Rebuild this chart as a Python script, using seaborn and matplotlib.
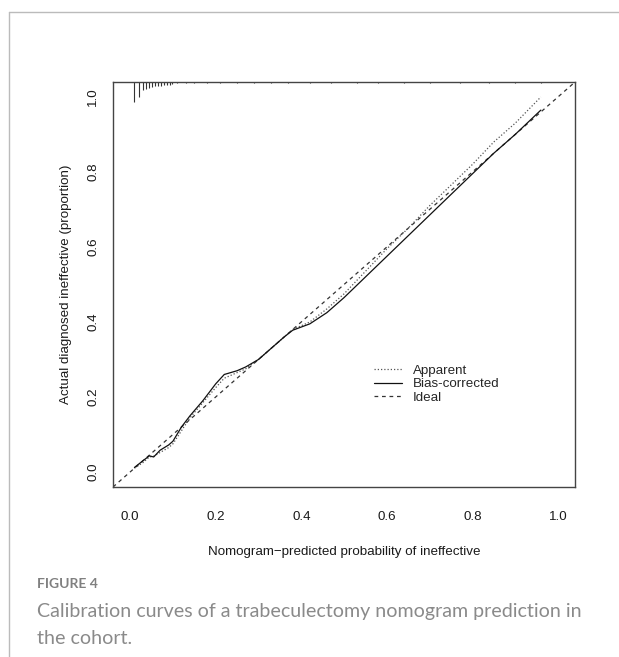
import numpy as np
import pandas as pd
import matplotlib
matplotlib.use("Agg")
import matplotlib.pyplot as plt
import seaborn as sns
from matplotlib.lines import Line2D

# =========================================
# Data
# =========================================

predicted = [0.01, 0.03, 0.045, 0.055, 0.07, 0.09, 0.10, 0.12, 0.14, 0.17,
             0.20, 0.22, 0.25, 0.27, 0.30, 0.33, 0.36, 0.38, 0.42, 0.46,
             0.50, 0.55, 0.60, 0.65, 0.70, 0.75, 0.80, 0.85, 0.90, 0.96]

bias_corrected = [0.012, 0.030, 0.043, 0.040, 0.058, 0.072, 0.082, 0.120, 0.150, 0.190,
                  0.235, 0.260, 0.270, 0.280, 0.300, 0.330, 0.360, 0.378, 0.395, 0.425,
                  0.465, 0.520, 0.575, 0.630, 0.685, 0.740, 0.795, 0.850, 0.900, 0.965]

apparent = [0.010, 0.025, 0.040, 0.042, 0.052, 0.065, 0.075, 0.110, 0.145, 0.185,
            0.225, 0.250, 0.265, 0.275, 0.300, 0.330, 0.360, 0.380, 0.400, 0.435,
            0.475, 0.535, 0.595, 0.650, 0.710, 0.765, 0.820, 0.880, 0.930, 1.000]

# rug of predicted probabilities drawn from the top of the box
rug_x = [0.010, 0.020, 0.030, 0.037, 0.044, 0.051, 0.058, 0.065, 0.072, 0.079,
         0.086, 0.093, 0.099, 0.11, 0.13, 0.15, 0.18, 0.21, 0.25, 0.29, 0.33,
         0.37, 0.42, 0.47, 0.53, 0.58, 0.64, 0.70, 0.77, 0.84, 0.90, 0.96]
rug_len = [0.053, 0.040, 0.022, 0.019, 0.016, 0.014, 0.012, 0.011, 0.011, 0.009,
           0.009, 0.007, 0.006, 0.004, 0.004, 0.003, 0.003, 0.003, 0.003, 0.003,
           0.003, 0.003, 0.003, 0.003, 0.003, 0.003, 0.003, 0.003, 0.003, 0.003,
           0.003, 0.003]

ticks = [0.0, 0.2, 0.4, 0.6, 0.8, 1.0]

df = pd.DataFrame({"predicted": predicted,
                   "apparent": apparent,
                   "bias": bias_corrected})

# =========================================
# Figure
# =========================================

sns.set_style("white")
plt.rcParams['font.family'] = ['Liberation Sans', 'DejaVu Sans']

fig = plt.figure(figsize=(6.19, 6.57), dpi=100)
ax = fig.add_axes([0.1826, 0.2588, 0.7464, 0.6164])

box_col = "#444444"
txt_col = "#1a1a1a"
fs = 9.6

ax.plot([-0.04, 1.04], [-0.04, 1.04], linestyle=(0, (3, 3)), color="#333333",
        lw=0.9, label="Ideal", zorder=2)
sns.lineplot(data=df, x="predicted", y="apparent", ax=ax, color="#555555",
             linestyle=(0, (1, 1.6)), lw=0.9, label="Apparent", zorder=3)
sns.lineplot(data=df, x="predicted", y="bias", ax=ax, color="#111111",
             lw=0.9, label="Bias-corrected", zorder=4)

ax.vlines(rug_x, [1.04 - l for l in rug_len], 1.04, color="#333333", lw=0.8)

ax.set_xlim(-0.04, 1.04)
ax.set_ylim(-0.04, 1.04)
ax.set_xticks(ticks)
ax.set_yticks(ticks)
ax.set_xticklabels([f"{t:.1f}" for t in ticks], fontsize=fs)
ax.set_yticklabels([f"{t:.1f}" for t in ticks], fontsize=fs,
                   rotation=90, va="center")
ax.tick_params(axis="both", direction="out", length=7, width=0.9,
               color=box_col, labelcolor=txt_col)
ax.tick_params(axis="x", pad=10)
ax.tick_params(axis="y", pad=3)

for s in ax.spines.values():
    s.set_color(box_col)
    s.set_linewidth(1.0)

ax.set_xlabel("Nomogram\u2212predicted probability of ineffective",
              fontsize=fs, color=txt_col, labelpad=17)
ax.set_ylabel("Actual diagnosed ineffective (proportion)",
              fontsize=fs, color=txt_col, labelpad=11)

# legend in R style, no frame
handles, labels = ax.get_legend_handles_labels()
order = [labels.index("Apparent"), labels.index("Bias-corrected"), labels.index("Ideal")]
ax.legend([handles[i] for i in order], [labels[i] for i in order],
          loc="upper left", bbox_to_anchor=(0.594, 0.455),
          bbox_transform=fig.transFigure, frameon=False, fontsize=fs,
          borderpad=0, handlelength=2.1, handletextpad=0.8, labelspacing=0.08)

# card border
fig.add_artist(Line2D([9 / 619, 1.0], [1 - 12 / 657, 1 - 12 / 657],
                      transform=fig.transFigure, color="#bbbbbb", lw=1.0))
fig.add_artist(Line2D([9 / 619, 9 / 619], [0.0, 1 - 12 / 657],
                      transform=fig.transFigure, color="#bbbbbb", lw=1.0))

# caption
cap_font = ["Lato", "DejaVu Sans"]
fig.text(37 / 619, 1 - 584 / 657, "FIGURE 4", fontsize=10, color="#808080",
         family=cap_font, fontweight="bold", va="center", ha="left")
fig.text(37 / 619, 1 - 611 / 657,
         "Calibration curves of a trabeculectomy nomogram prediction in",
         fontsize=14.1, color="#8a8a8a", family=cap_font,
         va="center", ha="left")
fig.text(37 / 619, 1 - 639 / 657, "the cohort.",
         fontsize=14.1, color="#8a8a8a", family=cap_font,
         va="center", ha="left")

fig.savefig("out.png", dpi=100, facecolor="white")
